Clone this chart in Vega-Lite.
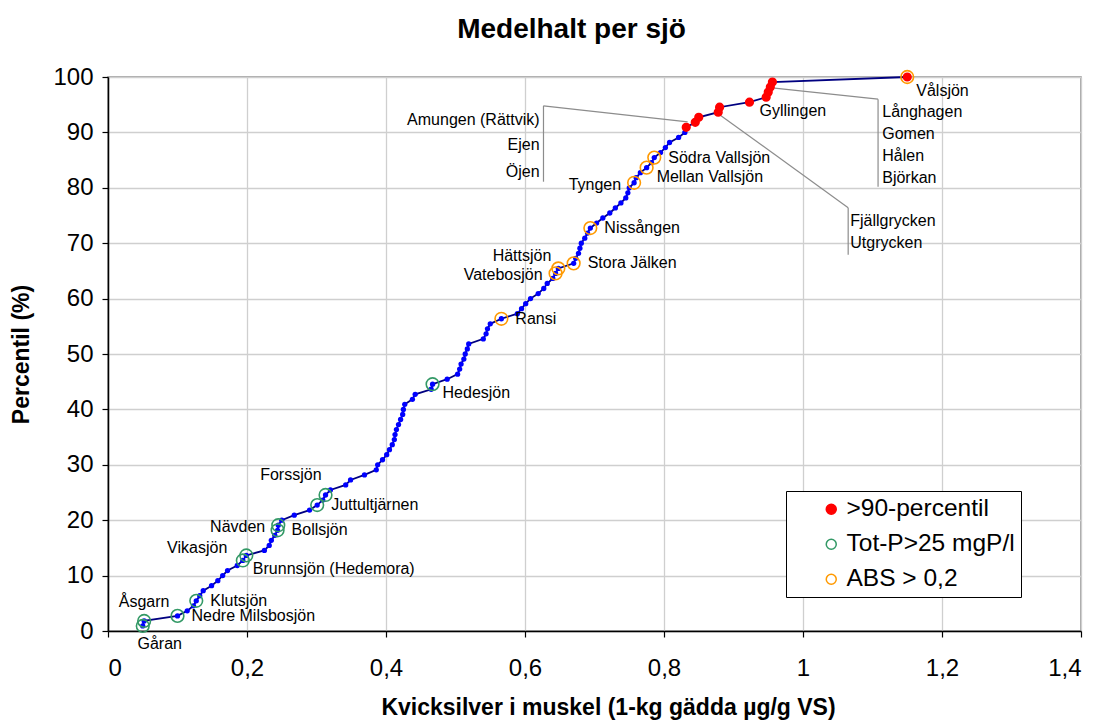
{
  "$schema": "https://vega.github.io/schema/vega-lite/v6.json",
  "width": 973,
  "height": 554,
  "autosize": "none",
  "padding": {"left": 108, "top": 77, "right": 19, "bottom": 91},
  "background": "white",
  "title": {"text": "Medelhalt per sjö", "font": "Liberation Sans", "fontSize": 28, "fontWeight": "bold", "color": "black", "anchor": "middle", "dx": -23, "offset": 21},
  "config": {
    "font": "Liberation Sans",
    "view": {"stroke": "#8c8c8c", "strokeWidth": 1.5},
    "axis": {
      "domainColor": "black", "domainWidth": 1.5, "tickColor": "black", "tickWidth": 1.2, "tickSize": 6,
      "gridColor": "#cfcfcf", "gridWidth": 1.3,
      "labelFont": "Liberation Sans", "labelFontSize": 24, "labelColor": "black",
      "titleFont": "Liberation Sans", "titleFontSize": 23, "titleFontWeight": "bold", "titleColor": "black"
    },
    "legend": {"labelFont": "Liberation Sans"}
  },
  "datasets": {
    "sjoar": [
      {"sjo": "Gåran", "hg": 0.050, "percentil": 0.91, "m1": null, "m2": "Tot-P>25 mgP/l"},
      {"sjo": "Åsgarn", "hg": 0.052, "percentil": 1.82, "m1": null, "m2": "Tot-P>25 mgP/l"},
      {"sjo": "Nedre Milsbosjön", "hg": 0.100, "percentil": 2.73, "m1": null, "m2": "Tot-P>25 mgP/l"},
      {"sjo": null, "hg": 0.114, "percentil": 3.64, "m1": null, "m2": null},
      {"sjo": null, "hg": 0.123, "percentil": 4.55, "m1": null, "m2": null},
      {"sjo": "Klutsjön", "hg": 0.127, "percentil": 5.45, "m1": null, "m2": "Tot-P>25 mgP/l"},
      {"sjo": null, "hg": 0.132, "percentil": 6.36, "m1": null, "m2": null},
      {"sjo": null, "hg": 0.137, "percentil": 7.27, "m1": null, "m2": null},
      {"sjo": null, "hg": 0.149, "percentil": 8.18, "m1": null, "m2": null},
      {"sjo": null, "hg": 0.158, "percentil": 9.09, "m1": null, "m2": null},
      {"sjo": null, "hg": 0.165, "percentil": 10.0, "m1": null, "m2": null},
      {"sjo": null, "hg": 0.172, "percentil": 10.91, "m1": null, "m2": null},
      {"sjo": null, "hg": 0.186, "percentil": 11.82, "m1": null, "m2": null},
      {"sjo": "Brunnsjön (Hedemora)", "hg": 0.194, "percentil": 12.73, "m1": null, "m2": "Tot-P>25 mgP/l"},
      {"sjo": "Vikasjön", "hg": 0.199, "percentil": 13.64, "m1": null, "m2": "Tot-P>25 mgP/l"},
      {"sjo": null, "hg": 0.225, "percentil": 14.55, "m1": null, "m2": null},
      {"sjo": null, "hg": 0.232, "percentil": 15.45, "m1": null, "m2": null},
      {"sjo": null, "hg": 0.235, "percentil": 16.36, "m1": null, "m2": null},
      {"sjo": null, "hg": 0.240, "percentil": 17.27, "m1": null, "m2": null},
      {"sjo": "Bollsjön", "hg": 0.244, "percentil": 18.18, "m1": null, "m2": "Tot-P>25 mgP/l"},
      {"sjo": "Nävden", "hg": 0.245, "percentil": 19.09, "m1": null, "m2": "Tot-P>25 mgP/l"},
      {"sjo": null, "hg": 0.250, "percentil": 20.0, "m1": null, "m2": null},
      {"sjo": null, "hg": 0.268, "percentil": 20.91, "m1": null, "m2": null},
      {"sjo": null, "hg": 0.290, "percentil": 21.82, "m1": null, "m2": null},
      {"sjo": "Juttultjärnen", "hg": 0.301, "percentil": 22.73, "m1": null, "m2": "Tot-P>25 mgP/l"},
      {"sjo": null, "hg": 0.309, "percentil": 23.64, "m1": null, "m2": null},
      {"sjo": "Forssjön", "hg": 0.313, "percentil": 24.55, "m1": null, "m2": "Tot-P>25 mgP/l"},
      {"sjo": null, "hg": 0.320, "percentil": 25.45, "m1": null, "m2": null},
      {"sjo": null, "hg": 0.342, "percentil": 26.36, "m1": null, "m2": null},
      {"sjo": null, "hg": 0.349, "percentil": 27.27, "m1": null, "m2": null},
      {"sjo": null, "hg": 0.369, "percentil": 28.18, "m1": null, "m2": null},
      {"sjo": null, "hg": 0.386, "percentil": 29.09, "m1": null, "m2": null},
      {"sjo": null, "hg": 0.388, "percentil": 30.0, "m1": null, "m2": null},
      {"sjo": null, "hg": 0.395, "percentil": 30.91, "m1": null, "m2": null},
      {"sjo": null, "hg": 0.401, "percentil": 31.82, "m1": null, "m2": null},
      {"sjo": null, "hg": 0.405, "percentil": 32.73, "m1": null, "m2": null},
      {"sjo": null, "hg": 0.409, "percentil": 33.64, "m1": null, "m2": null},
      {"sjo": null, "hg": 0.412, "percentil": 34.55, "m1": null, "m2": null},
      {"sjo": null, "hg": 0.413, "percentil": 35.45, "m1": null, "m2": null},
      {"sjo": null, "hg": 0.415, "percentil": 36.36, "m1": null, "m2": null},
      {"sjo": null, "hg": 0.418, "percentil": 37.27, "m1": null, "m2": null},
      {"sjo": null, "hg": 0.421, "percentil": 38.18, "m1": null, "m2": null},
      {"sjo": null, "hg": 0.424, "percentil": 39.09, "m1": null, "m2": null},
      {"sjo": null, "hg": 0.425, "percentil": 40.0, "m1": null, "m2": null},
      {"sjo": null, "hg": 0.427, "percentil": 40.91, "m1": null, "m2": null},
      {"sjo": null, "hg": 0.438, "percentil": 41.82, "m1": null, "m2": null},
      {"sjo": null, "hg": 0.442, "percentil": 42.73, "m1": null, "m2": null},
      {"sjo": null, "hg": 0.465, "percentil": 43.64, "m1": null, "m2": null},
      {"sjo": "Hedesjön", "hg": 0.467, "percentil": 44.55, "m1": null, "m2": "Tot-P>25 mgP/l"},
      {"sjo": null, "hg": 0.488, "percentil": 45.45, "m1": null, "m2": null},
      {"sjo": null, "hg": 0.503, "percentil": 46.36, "m1": null, "m2": null},
      {"sjo": null, "hg": 0.506, "percentil": 47.27, "m1": null, "m2": null},
      {"sjo": null, "hg": 0.508, "percentil": 48.18, "m1": null, "m2": null},
      {"sjo": null, "hg": 0.512, "percentil": 49.09, "m1": null, "m2": null},
      {"sjo": null, "hg": 0.514, "percentil": 50.0, "m1": null, "m2": null},
      {"sjo": null, "hg": 0.517, "percentil": 50.91, "m1": null, "m2": null},
      {"sjo": null, "hg": 0.519, "percentil": 51.82, "m1": null, "m2": null},
      {"sjo": null, "hg": 0.540, "percentil": 52.73, "m1": null, "m2": null},
      {"sjo": null, "hg": 0.544, "percentil": 53.64, "m1": null, "m2": null},
      {"sjo": null, "hg": 0.546, "percentil": 54.55, "m1": null, "m2": null},
      {"sjo": null, "hg": 0.550, "percentil": 55.45, "m1": null, "m2": null},
      {"sjo": "Ransi", "hg": 0.566, "percentil": 56.36, "m1": null, "m2": "ABS > 0,2"},
      {"sjo": null, "hg": 0.589, "percentil": 57.27, "m1": null, "m2": null},
      {"sjo": null, "hg": 0.595, "percentil": 58.18, "m1": null, "m2": null},
      {"sjo": null, "hg": 0.601, "percentil": 59.09, "m1": null, "m2": null},
      {"sjo": null, "hg": 0.608, "percentil": 60.0, "m1": null, "m2": null},
      {"sjo": null, "hg": 0.619, "percentil": 60.91, "m1": null, "m2": null},
      {"sjo": null, "hg": 0.627, "percentil": 61.82, "m1": null, "m2": null},
      {"sjo": null, "hg": 0.632, "percentil": 62.73, "m1": null, "m2": null},
      {"sjo": null, "hg": 0.640, "percentil": 63.64, "m1": null, "m2": null},
      {"sjo": "Vatebosjön", "hg": 0.644, "percentil": 64.55, "m1": null, "m2": "ABS > 0,2"},
      {"sjo": "Hättsjön", "hg": 0.648, "percentil": 65.45, "m1": null, "m2": "ABS > 0,2"},
      {"sjo": "Stora Jälken", "hg": 0.670, "percentil": 66.36, "m1": null, "m2": "ABS > 0,2"},
      {"sjo": null, "hg": 0.673, "percentil": 67.27, "m1": null, "m2": null},
      {"sjo": null, "hg": 0.677, "percentil": 68.18, "m1": null, "m2": null},
      {"sjo": null, "hg": 0.679, "percentil": 69.09, "m1": null, "m2": null},
      {"sjo": null, "hg": 0.681, "percentil": 70.0, "m1": null, "m2": null},
      {"sjo": null, "hg": 0.686, "percentil": 70.91, "m1": null, "m2": null},
      {"sjo": null, "hg": 0.690, "percentil": 71.82, "m1": null, "m2": null},
      {"sjo": "Nissången", "hg": 0.694, "percentil": 72.73, "m1": null, "m2": "ABS > 0,2"},
      {"sjo": null, "hg": 0.703, "percentil": 73.64, "m1": null, "m2": null},
      {"sjo": null, "hg": 0.712, "percentil": 74.55, "m1": null, "m2": null},
      {"sjo": null, "hg": 0.722, "percentil": 75.45, "m1": null, "m2": null},
      {"sjo": null, "hg": 0.730, "percentil": 76.36, "m1": null, "m2": null},
      {"sjo": null, "hg": 0.738, "percentil": 77.27, "m1": null, "m2": null},
      {"sjo": null, "hg": 0.745, "percentil": 78.18, "m1": null, "m2": null},
      {"sjo": null, "hg": 0.748, "percentil": 79.09, "m1": null, "m2": null},
      {"sjo": null, "hg": 0.750, "percentil": 80.0, "m1": null, "m2": null},
      {"sjo": "Tyngen", "hg": 0.757, "percentil": 80.91, "m1": null, "m2": "ABS > 0,2"},
      {"sjo": null, "hg": 0.760, "percentil": 81.82, "m1": null, "m2": null},
      {"sjo": null, "hg": 0.766, "percentil": 82.73, "m1": null, "m2": null},
      {"sjo": "Mellan Vallsjön", "hg": 0.775, "percentil": 83.64, "m1": null, "m2": "ABS > 0,2"},
      {"sjo": null, "hg": 0.782, "percentil": 84.55, "m1": null, "m2": null},
      {"sjo": "Södra Vallsjön", "hg": 0.786, "percentil": 85.45, "m1": null, "m2": "ABS > 0,2"},
      {"sjo": null, "hg": 0.795, "percentil": 86.36, "m1": null, "m2": null},
      {"sjo": null, "hg": 0.802, "percentil": 87.27, "m1": null, "m2": null},
      {"sjo": null, "hg": 0.808, "percentil": 88.18, "m1": null, "m2": null},
      {"sjo": null, "hg": 0.821, "percentil": 89.09, "m1": null, "m2": null},
      {"sjo": null, "hg": 0.830, "percentil": 90.0, "m1": null, "m2": null},
      {"sjo": "Amungen (Rättvik)", "hg": 0.832, "percentil": 90.91, "m1": ">90-percentil", "m2": null},
      {"sjo": "Ejen", "hg": 0.845, "percentil": 91.82, "m1": ">90-percentil", "m2": null},
      {"sjo": "Öjen", "hg": 0.850, "percentil": 92.73, "m1": ">90-percentil", "m2": null},
      {"sjo": "Fjällgrycken", "hg": 0.878, "percentil": 93.64, "m1": ">90-percentil", "m2": null},
      {"sjo": "Utgrycken", "hg": 0.880, "percentil": 94.55, "m1": ">90-percentil", "m2": null},
      {"sjo": "Gyllingen", "hg": 0.923, "percentil": 95.45, "m1": ">90-percentil", "m2": null},
      {"sjo": "Långhagen", "hg": 0.947, "percentil": 96.36, "m1": ">90-percentil", "m2": null},
      {"sjo": "Gomen", "hg": 0.950, "percentil": 97.27, "m1": ">90-percentil", "m2": null},
      {"sjo": "Hålen", "hg": 0.953, "percentil": 98.18, "m1": ">90-percentil", "m2": null},
      {"sjo": "Björkan", "hg": 0.956, "percentil": 99.09, "m1": ">90-percentil", "m2": null},
      {"sjo": "Vålsjön", "hg": 1.150, "percentil": 100.0, "m1": ">90-percentil", "m2": "ABS > 0,2"}
    ],
    "grupper": [
      {"namn": "Amungen (Rättvik)", "x": 0.621, "y": 92.3},
      {"namn": "Ejen", "x": 0.621, "y": 87.8},
      {"namn": "Öjen", "x": 0.621, "y": 82.9},
      {"namn": "Fjällgrycken", "x": 1.068, "y": 74.0},
      {"namn": "Utgrycken", "x": 1.068, "y": 70.1},
      {"namn": "Långhagen", "x": 1.114, "y": 93.6},
      {"namn": "Gomen", "x": 1.114, "y": 89.8},
      {"namn": "Hålen", "x": 1.114, "y": 85.8},
      {"namn": "Björkan", "x": 1.114, "y": 81.8}
    ],
    "ledare": [
      {"x": 0.6266, "y": 94.8, "x2": 0.6266, "y2": 81.1},
      {"x": 0.6266, "y": 94.8, "x2": 0.834, "y2": 91.9},
      {"x": 0.880, "y": 93.2, "x2": 1.065, "y2": 76.4},
      {"x": 1.065, "y": 76.4, "x2": 1.065, "y2": 67.9},
      {"x": 0.959, "y": 98.0, "x2": 1.108, "y2": 96.0},
      {"x": 1.108, "y": 96.0, "x2": 1.108, "y2": 80.2}
    ]
  },
  "layer": [
    {
      "data": {"name": "ledare"},
      "mark": {"type": "rule", "color": "#8c8c8c", "strokeWidth": 1.2},
      "encoding": {
        "x": {"field": "x", "type": "quantitative", "scale": {"domain": [0, 1.4], "nice": false},
          "axis": {"values": [0, 0.2, 0.4, 0.6, 0.8, 1, 1.2, 1.4], "labelExpr": "replace(format(datum.value, '.1~f'), '.', ',')", "title": "Kvicksilver i muskel (1-kg gädda µg/g VS)", "labelPadding": 19, "titleX": 500, "titleY": 76, "titleBaseline": "middle", "titleAnchor": "middle"}},
        "y": {"field": "y", "type": "quantitative", "scale": {"domain": [0, 100], "nice": false},
          "axis": {"values": [0, 10, 20, 30, 40, 50, 60, 70, 80, 90, 100], "title": "Percentil (%)", "labelPadding": 9, "titleX": -87, "titleBaseline": "middle", "titleAnchor": "middle"}},
        "x2": {"field": "x2"},
        "y2": {"field": "y2"}
      }
    },
    {
      "data": {"name": "sjoar"},
      "mark": {"type": "line", "color": "#000080", "strokeWidth": 1.8},
      "encoding": {
        "x": {"field": "hg", "type": "quantitative"},
        "y": {"field": "percentil", "type": "quantitative"},
        "order": {"field": "percentil", "type": "quantitative"}
      }
    },
    {
      "data": {"name": "sjoar"},
      "mark": {"type": "circle", "color": "#0000ff", "size": 28, "opacity": 1},
      "encoding": {
        "x": {"field": "hg", "type": "quantitative"},
        "y": {"field": "percentil", "type": "quantitative"}
      }
    },
    {
      "data": {"name": "sjoar"},
      "transform": [
        {"fold": ["m1", "m2"], "as": ["typ", "kategori"]},
        {"filter": "datum.kategori != null"}
      ],
      "mark": {"type": "point", "shape": "circle", "strokeWidth": 1.6, "opacity": 1},
      "encoding": {
        "x": {"field": "hg", "type": "quantitative"},
        "y": {"field": "percentil", "type": "quantitative"},
        "fill": {"field": "kategori", "type": "nominal",
          "scale": {"domain": [">90-percentil", "Tot-P>25 mgP/l", "ABS > 0,2"], "range": ["#ff0000", "rgba(255,255,255,0)", "rgba(255,255,255,0)"]},
          "legend": {"title": null, "orient": "none", "legendX": 678, "legendY": 414, "strokeColor": "black", "fillColor": "white", "padding": 6, "labelFontSize": 24.5, "labelColor": "black", "labelLimit": 400, "rowPadding": 10, "symbolOffset": 27, "labelOffset": 3, "symbolStrokeWidth": 1.5, "symbolType": "circle",
            "encode": {
              "symbols": {"update": {"size": {"signal": "datum.value === '>90-percentil' ? 55 : 150"}}},
              "entries": {"update": {"width": {"value": 256}}}
            }}},
        "stroke": {"field": "kategori", "type": "nominal",
          "scale": {"domain": [">90-percentil", "Tot-P>25 mgP/l", "ABS > 0,2"], "range": ["#ff0000", "#339966", "#ff9900"]},
          "legend": {"title": null}},
        "size": {"condition": {"test": "datum.kategori === '>90-percentil'", "value": 58}, "value": 160}
      }
    },
    {
      "data": {"name": "sjoar"},
      "transform": [{"filter": {"field": "sjo", "oneOf": ["Nedre Milsbosjön", "Klutsjön", "Ransi", "Stora Jälken", "Nissången", "Södra Vallsjön", "Juttultjärnen", "Bollsjön"]}}],
      "mark": {"type": "text", "align": "left", "baseline": "middle", "dx": 14, "dy": 0, "fontSize": 16, "color": "black"},
      "encoding": {"x": {"field": "hg", "type": "quantitative"}, "y": {"field": "percentil", "type": "quantitative"}, "text": {"field": "sjo"}}
    },
    {
      "data": {"name": "sjoar"},
      "transform": [{"filter": {"field": "sjo", "oneOf": ["Brunnsjön (Hedemora)", "Hedesjön", "Mellan Vallsjön", "Gyllingen"]}}],
      "mark": {"type": "text", "align": "left", "baseline": "middle", "dx": 10, "dy": 9, "fontSize": 16, "color": "black"},
      "encoding": {"x": {"field": "hg", "type": "quantitative"}, "y": {"field": "percentil", "type": "quantitative"}, "text": {"field": "sjo"}}
    },
    {
      "data": {"name": "sjoar"},
      "transform": [{"filter": {"field": "sjo", "oneOf": ["Vålsjön"]}}],
      "mark": {"type": "text", "align": "left", "baseline": "middle", "dx": 9, "dy": 14, "fontSize": 16, "color": "black"},
      "encoding": {"x": {"field": "hg", "type": "quantitative"}, "y": {"field": "percentil", "type": "quantitative"}, "text": {"field": "sjo"}}
    },
    {
      "data": {"name": "sjoar"},
      "transform": [{"filter": {"field": "sjo", "oneOf": ["Vatebosjön", "Tyngen", "Nävden"]}}],
      "mark": {"type": "text", "align": "right", "baseline": "middle", "dx": -13, "dy": 2, "fontSize": 16, "color": "black"},
      "encoding": {"x": {"field": "hg", "type": "quantitative"}, "y": {"field": "percentil", "type": "quantitative"}, "text": {"field": "sjo"}}
    },
    {
      "data": {"name": "sjoar"},
      "transform": [{"filter": {"field": "sjo", "oneOf": ["Hättsjön"]}}],
      "mark": {"type": "text", "align": "right", "baseline": "middle", "dx": -7, "dy": -12, "fontSize": 16, "color": "black"},
      "encoding": {"x": {"field": "hg", "type": "quantitative"}, "y": {"field": "percentil", "type": "quantitative"}, "text": {"field": "sjo"}}
    },
    {
      "data": {"name": "sjoar"},
      "transform": [{"filter": {"field": "sjo", "oneOf": ["Vikasjön"]}}],
      "mark": {"type": "text", "align": "right", "baseline": "middle", "dx": -19, "dy": -7, "fontSize": 16, "color": "black"},
      "encoding": {"x": {"field": "hg", "type": "quantitative"}, "y": {"field": "percentil", "type": "quantitative"}, "text": {"field": "sjo"}}
    },
    {
      "data": {"name": "sjoar"},
      "transform": [{"filter": {"field": "sjo", "oneOf": ["Forssjön"]}}],
      "mark": {"type": "text", "align": "right", "baseline": "middle", "dx": -4, "dy": -20, "fontSize": 16, "color": "black"},
      "encoding": {"x": {"field": "hg", "type": "quantitative"}, "y": {"field": "percentil", "type": "quantitative"}, "text": {"field": "sjo"}}
    },
    {
      "data": {"name": "sjoar"},
      "transform": [{"filter": {"field": "sjo", "oneOf": ["Åsgarn"]}}],
      "mark": {"type": "text", "align": "center", "baseline": "middle", "dx": 0, "dy": -19, "fontSize": 16, "color": "black"},
      "encoding": {"x": {"field": "hg", "type": "quantitative"}, "y": {"field": "percentil", "type": "quantitative"}, "text": {"field": "sjo"}}
    },
    {
      "data": {"name": "sjoar"},
      "transform": [{"filter": {"field": "sjo", "oneOf": ["Gåran"]}}],
      "mark": {"type": "text", "align": "center", "baseline": "middle", "dx": 17, "dy": 18, "fontSize": 16, "color": "black"},
      "encoding": {"x": {"field": "hg", "type": "quantitative"}, "y": {"field": "percentil", "type": "quantitative"}, "text": {"field": "sjo"}}
    },
    {
      "data": {"name": "grupper"},
      "transform": [{"filter": {"field": "namn", "oneOf": ["Amungen (Rättvik)", "Ejen", "Öjen"]}}],
      "mark": {"type": "text", "align": "right", "baseline": "middle", "fontSize": 16, "color": "black"},
      "encoding": {"x": {"field": "x", "type": "quantitative"}, "y": {"field": "y", "type": "quantitative"}, "text": {"field": "namn"}}
    },
    {
      "data": {"name": "grupper"},
      "transform": [{"filter": {"field": "namn", "oneOf": ["Fjällgrycken", "Utgrycken", "Långhagen", "Gomen", "Hålen", "Björkan"]}}],
      "mark": {"type": "text", "align": "left", "baseline": "middle", "fontSize": 16, "color": "black"},
      "encoding": {"x": {"field": "x", "type": "quantitative"}, "y": {"field": "y", "type": "quantitative"}, "text": {"field": "namn"}}
    }
  ]
}
